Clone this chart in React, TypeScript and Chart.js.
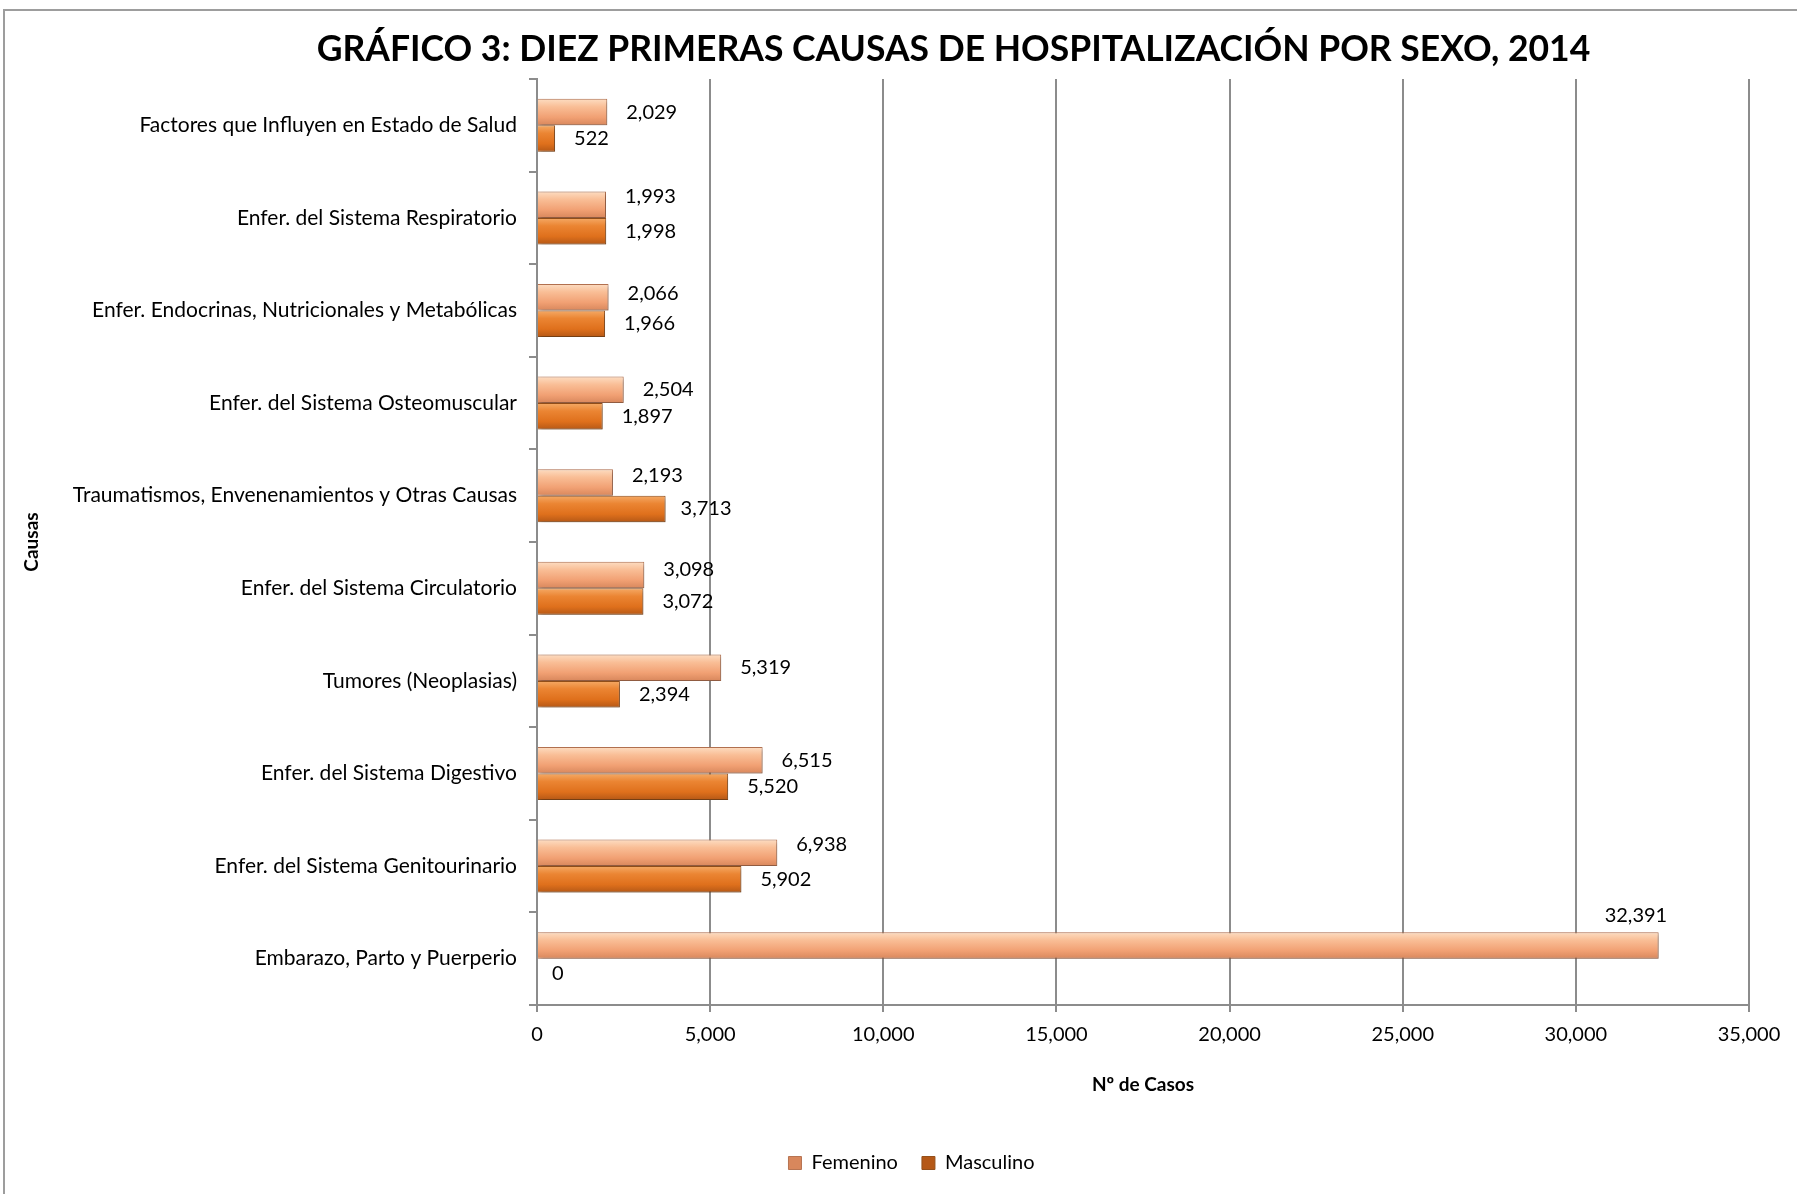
import React, { useEffect, useRef } from 'react';
import { Chart, registerables } from 'chart.js';

Chart.register(...registerables);

const categories = [
  'Factores que Influyen en Estado de Salud',
  'Enfer. del Sistema Respiratorio',
  'Enfer. Endocrinas, Nutricionales y Metabólicas',
  'Enfer. del Sistema Osteomuscular',
  'Traumatismos, Envenenamientos y Otras Causas',
  'Enfer. del Sistema Circulatorio',
  'Tumores (Neoplasias)',
  'Enfer. del Sistema Digestivo',
  'Enfer. del Sistema Genitourinario',
  'Embarazo, Parto y Puerperio',
];

const femenino = [2029, 1993, 2066, 2504, 2193, 3098, 5319, 6515, 6938, 32391];
const masculino = [522, 1998, 1966, 1897, 3713, 3072, 2394, 5520, 5902, 0];

const seriesNames = ['Femenino', 'Masculino'];
const xMin = 0;
const xMax = 35000;
const xStep = 5000;

const titleText = 'GRÁFICO 3: DIEZ PRIMERAS CAUSAS DE HOSPITALIZACIÓN POR SEXO, 2014';
const xTitle = 'Nº de Casos';
const yTitle = 'Causas';

// label nudges (text placement only)
const femLabelDx = [0, 0, 0, 0, 0, 0, 0, 0, 0, -73];
const femLabelDy = [0, -8, -4, 0, -7, -6, 0, 0, -8, -30];
const mascLabelDx = [0, 0, 0, 0, -4, 0, 0, 0, 0, -4];
const mascLabelDy = [0, 0, 0, 0, 0, 0, 0, 0, 0, 2];

const FONT = "Lato, 'Open Sans', sans-serif";
const W = 1797;
const H = 1194;
const TITLE_CX = 953.5;
const LEGEND_CX = 911.5;
const CAT_PCT = 0.572;

const fmt = (v: number) => v.toLocaleString('en-US');

const femStops = ['#FDDDC2', '#F9BE96', '#F1A073', '#D8875C'];
const mascStops = ['#F5AA66', '#EB8533', '#DF701C', '#B55816'];

function makeBg(stops: string[], dsIndex: number) {
  return (ctx: any) => {
    const chart = ctx.chart;
    const ys = chart.scales && chart.scales.y;
    if (!ys || ctx.dataIndex === undefined || ctx.type !== 'data') return stops[2];
    const c = ys.getPixelForValue(ctx.dataIndex);
    const band = (ys.height / categories.length) * CAT_PCT / 2;
    if (!isFinite(c) || !isFinite(band) || band <= 0) return stops[2];
    const top = dsIndex === 0 ? c - band : c;
    const g = chart.ctx.createLinearGradient(0, top, 0, top + band);
    g.addColorStop(0, stops[0]);
    g.addColorStop(0.3, stops[1]);
    g.addColorStop(0.7, stops[2]);
    g.addColorStop(1, stops[3]);
    return g;
  };
}

const layoutShift = {
  id: 'layoutShift',
  afterLayout(chart: any) {
    const t = chart.titleBlock;
    if (t) {
      const dx = TITLE_CX - (t.left + t.right) / 2;
      t.left += dx;
      t.right += dx;
    }
    const l = chart.legend;
    if (l) {
      const dx = LEGEND_CX - (l.left + l.right) / 2;
      l.left += dx;
      l.right += dx;
    }
  },
};

const barDecor = {
  id: 'barDecor',
  beforeDatasetsDraw(chart: any) {
    const ctx = chart.ctx;
    ctx.save();
    ctx.shadowColor = 'rgba(0,0,0,0.28)';
    ctx.shadowBlur = 4;
    ctx.shadowOffsetX = 2;
    ctx.shadowOffsetY = 2;
  },
  afterDatasetsDraw(chart: any) {
    const ctx = chart.ctx;
    ctx.restore();
    ctx.save();
    ctx.font = `20px ${FONT}`;
    ctx.fillStyle = '#000';
    ctx.textAlign = 'left';
    ctx.textBaseline = 'middle';
    const dxs = [femLabelDx, mascLabelDx];
    const dys = [femLabelDy, mascLabelDy];
    chart.data.datasets.forEach((ds: any, di: number) => {
      const meta = chart.getDatasetMeta(di);
      meta.data.forEach((el: any, i: number) => {
        const v = ds.data[i];
        ctx.fillText(fmt(v), el.x + 19 + dxs[di][i], el.y + dys[di][i]);
      });
    });
    ctx.restore();
  },
};

export default function App() {
  const ref = useRef<HTMLCanvasElement | null>(null);

  useEffect(() => {
    if (!ref.current) return;
    const chart = new Chart(ref.current, {
      type: 'bar',
      data: {
        labels: categories,
        datasets: [
          {
            label: seriesNames[0],
            data: femenino,
            backgroundColor: makeBg(femStops, 0) as any,
            borderColor: '#B77452',
            borderWidth: 1,
            barPercentage: 1,
            categoryPercentage: CAT_PCT,
          },
          {
            label: seriesNames[1],
            data: masculino,
            backgroundColor: makeBg(mascStops, 1) as any,
            borderColor: '#95501A',
            borderWidth: 1,
            barPercentage: 1,
            categoryPercentage: CAT_PCT,
          },
        ],
      },
      options: {
        indexAxis: 'y',
        responsive: false,
        animation: false,
        devicePixelRatio: 1,
        layout: { padding: { top: 0, left: 0, right: 48, bottom: 11 } },
        plugins: {
          title: {
            display: true,
            text: titleText,
            color: '#000',
            font: { family: FONT, size: 35.5, weight: 'bold' },
            padding: { top: 28, bottom: 8.4 },
          },
          legend: {
            display: true,
            position: 'bottom',
            labels: {
              color: '#000',
              font: { family: FONT, size: 20 },
              boxWidth: 13,
              boxHeight: 13,
              padding: 24,
            },
          },
          tooltip: { enabled: false },
        },
        scales: {
          x: {
            type: 'linear',
            min: xMin,
            max: xMax,
            ticks: {
              stepSize: xStep,
              color: '#000',
              font: { family: FONT, size: 20 },
              padding: 11,
              callback: (v: any) => fmt(Number(v)),
            },
            grid: { color: '#8c8c8c', lineWidth: 2, tickLength: 7, drawTicks: true },
            border: { display: true, color: '#8c8c8c', width: 2 },
            title: {
              display: true,
              text: xTitle,
              color: '#000',
              font: { family: FONT, size: 19, weight: 'bold' },
              padding: { top: 0, bottom: 32.6 },
            },
            afterFit: (s: any) => {
              s.height = 124;
            },
          },
          y: {
            type: 'category',
            offset: true,
            ticks: {
              color: '#000',
              font: { family: FONT, size: 21 },
              padding: 12,
            },
            grid: {
              display: true,
              offset: true,
              drawOnChartArea: false,
              drawTicks: true,
              tickLength: 8,
              color: '#8c8c8c',
              lineWidth: 2,
            },
            border: { display: true, color: '#8c8c8c', width: 2 },
            title: {
              display: true,
              text: yTitle,
              color: '#000',
              font: { family: FONT, size: 19, weight: 'bold' },
              padding: { top: 20.6, bottom: 0 },
            },
            afterFit: (s: any) => {
              s.width = 537;
            },
          },
        },
      } as any,
      plugins: [layoutShift, barDecor],
    });
    return () => chart.destroy();
  }, []);

  return (
    <div
      style={{
        position: 'fixed',
        left: 0,
        top: 0,
        width: W,
        height: H,
        overflow: 'hidden',
        background: '#fff',
      }}
    >
      <div
        style={{
          position: 'absolute',
          left: 3,
          top: 9,
          width: 2000,
          height: 2000,
          border: '2px solid #9d9d9d',
        }}
      />
      <canvas
        ref={ref}
        width={W}
        height={H}
        style={{ position: 'absolute', left: 0, top: 0, width: W, height: H }}
      />
    </div>
  );
}
